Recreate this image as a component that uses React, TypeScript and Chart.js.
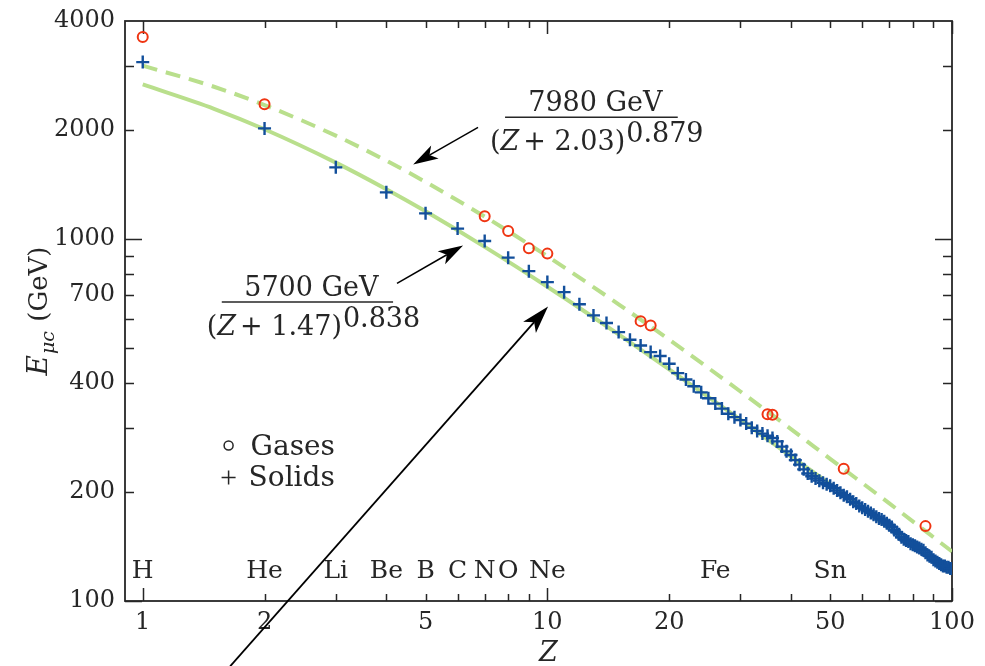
import React, { useEffect, useRef } from 'react';
import { Chart, registerables } from 'chart.js';

Chart.register(...registerables);

// ---------- data ----------
const SOLID_Z = [
  1, 2, 3, 4, 5, 6, 7, 8, 9, 10, 11, 12, 13, 14, 15, 16, 17, 18, 19, 20,
  21, 22, 23, 24, 25, 26, 27, 28, 29, 30, 31, 32, 33, 34, 35, 36, 37, 38, 39, 40,
  41, 42, 43, 44, 45, 46, 47, 48, 49, 50, 51, 52, 53, 54, 55, 56, 57, 58, 59, 60,
  61, 62, 63, 64, 65, 66, 67, 68, 69, 70, 71, 72, 73, 74, 75, 76, 77, 78, 79, 80,
  81, 82, 83, 84, 85, 86, 87, 88, 89, 90, 91, 92, 93, 94, 95, 96, 97, 98, 99, 100,
];
const SOLID_E = [
  3080, 2020, 1577, 1345, 1177, 1068, 987, 888, 815, 760, 713, 660, 615, 586, 553, 527, 508, 487, 475, 452,
  426, 409, 392, 377, 363, 351, 340, 329, 322, 316, 309, 301, 295, 290, 286, 282, 276, 267, 259, 253,
  245, 238, 231, 225, 221, 218, 215, 212, 210, 208, 205, 202, 199, 196, 194, 191, 188, 186, 183, 181,
  179, 177, 175, 173, 171, 169, 168, 166, 164, 162, 160, 157, 155, 153, 150, 148, 147, 146, 144, 143,
  142, 141, 140, 139, 138, 136, 134, 133, 132, 130, 129, 128, 127, 126, 125, 125, 124, 124, 123, 123,
];
const GAS_Z = [1, 2, 7, 8, 9, 10, 17, 18, 35, 36, 54, 86];
const GAS_E = [3611, 2354, 1155, 1052, 943, 911, 593, 577, 328, 327, 232, 161];

const FIT_Z = [1, 1.5, 2, 3, 4, 5, 7, 10, 15, 20, 30, 40, 50, 70, 100];
const FIT_SOLID_E = [2672, 2289, 2009, 1625, 1372, 1192, 951, 738, 545, 436, 317, 251, 210, 159, 119];
const FIT_GAS_E = [3012, 2633, 2344, 1929, 1645, 1437, 1153, 896, 660, 527, 379, 298.5, 247, 186, 137];

const X_LABELS = [1, 2, 5, 10, 20, 50, 100];
const Y_LABELS = [100, 200, 400, 700, 1000, 2000, 4000];
const X_MAJOR = [1, 10, 100];
const X_MINOR = [2, 3, 4, 5, 6, 7, 8, 9, 20, 30, 40, 50, 60, 70, 80, 90];
const Y_MAJOR = [100, 1000];
const Y_MINOR = [200, 300, 400, 500, 600, 700, 800, 900, 2000, 3000];

const ELEMENTS = ['H', 'He', 'Li', 'Be', 'B', 'C', 'N', 'O', 'Ne', 'Fe', 'Sn'];
const ELEMENT_Z = [1, 2, 3, 4, 5, 6, 7, 8, 10, 26, 50];
const ELEMENT_LABEL_E = 116;

// ---------- styles ----------
const INK = '#262626';
const RED = '#ef3512';
const BLUE = '#124f9b';
const GREEN = '#b9df8c';
const SERIF = '"DejaVu Serif", serif';

type Pt = [number, number];

function drawArrow(ctx: CanvasRenderingContext2D, from: Pt, to: Pt, headLen: number, headW: number) {
  const [x1, y1] = from;
  const [x2, y2] = to;
  const ang = Math.atan2(y2 - y1, x2 - x1);
  const c = Math.cos(ang);
  const s = Math.sin(ang);
  const bx = x2 - headLen * c;
  const by = y2 - headLen * s;
  const nx = x2 - headLen * 0.75 * c;
  const ny = y2 - headLen * 0.75 * s;
  ctx.beginPath();
  ctx.moveTo(x1, y1);
  ctx.lineTo(nx, ny);
  ctx.stroke();
  ctx.beginPath();
  ctx.moveTo(x2, y2);
  ctx.lineTo(bx + (headW / 2) * s, by - (headW / 2) * c);
  ctx.lineTo(nx, ny);
  ctx.lineTo(bx - (headW / 2) * s, by + (headW / 2) * c);
  ctx.closePath();
  ctx.fill();
}

function drawFraction(
  ctx: CanvasRenderingContext2D,
  left: number,
  right: number,
  barY: number,
  numer: string,
  denomNum: string,
  expo: string
) {
  const size = 27;
  ctx.fillStyle = INK;
  ctx.strokeStyle = INK;
  ctx.lineWidth = 1.6;
  ctx.beginPath();
  ctx.moveTo(left, barY);
  ctx.lineTo(right, barY);
  ctx.stroke();
  ctx.font = `${size}px ${SERIF}`;
  ctx.textAlign = 'center';
  ctx.textBaseline = 'alphabetic';
  ctx.fillText(numer, (left + right) / 2 + 4, barY - 6);
  ctx.textAlign = 'left';
  let x = left - 15;
  const base = barY + 33;
  ctx.font = `${size}px ${SERIF}`;
  ctx.fillText('(', x, base);
  x += ctx.measureText('(').width;
  ctx.font = `italic ${size}px ${SERIF}`;
  ctx.fillText('Z', x, base);
  x += ctx.measureText('Z').width + 4;
  ctx.font = `${size}px ${SERIF}`;
  const rest = `+ ${denomNum})`;
  ctx.fillText(rest, x, base);
  x += ctx.measureText(rest).width + 1;
  ctx.fillText(expo, x, base - 8);
}

const overlay = {
  id: 'overlay',
  beforeDatasetsDraw(chart: any) {
    const { ctx, chartArea: a, scales } = chart;
    const xs = scales.x;
    const ys = scales.y;
    ctx.save();
    ctx.strokeStyle = INK;
    ctx.lineWidth = 1.8;
    ctx.strokeRect(a.left, a.top, a.right - a.left, a.bottom - a.top);
    ctx.lineWidth = 1.5;
    ctx.beginPath();
    const xTick = (v: number, len: number) => {
      const px = Math.round(xs.getPixelForValue(v)) + 0.5;
      ctx.moveTo(px, a.bottom);
      ctx.lineTo(px, a.bottom - len);
      ctx.moveTo(px, a.top);
      ctx.lineTo(px, a.top + len);
    };
    const yTick = (v: number, len: number) => {
      const py = Math.round(ys.getPixelForValue(v)) + 0.5;
      ctx.moveTo(a.left, py);
      ctx.lineTo(a.left + len, py);
      ctx.moveTo(a.right, py);
      ctx.lineTo(a.right - len, py);
    };
    X_MAJOR.forEach((v) => xTick(v, 13));
    X_MINOR.forEach((v) => xTick(v, 7));
    Y_MAJOR.forEach((v) => yTick(v, 17));
    Y_MINOR.forEach((v) => yTick(v, 9));
    ctx.stroke();
    ctx.restore();
  },
  afterDraw(chart: any) {
    const { ctx, chartArea: a, scales } = chart;
    const xs = scales.x;
    const ys = scales.y;
    const P = (z: number, e: number): Pt => [xs.getPixelForValue(z), ys.getPixelForValue(e)];
    ctx.save();
    ctx.fillStyle = INK;

    // element labels
    ctx.font = `25px ${SERIF}`;
    ctx.textAlign = 'center';
    ctx.textBaseline = 'alphabetic';
    const ly = ys.getPixelForValue(ELEMENT_LABEL_E);
    ELEMENTS.forEach((el, i) => {
      ctx.fillText(el, xs.getPixelForValue(ELEMENT_Z[i]), ly);
    });

    // legend
    const [gx, gy] = P(1.63, 269);
    const [sx, sy] = P(1.63, 219.5);
    ctx.strokeStyle = INK;
    ctx.lineWidth = 1.5;
    ctx.beginPath();
    ctx.arc(gx, gy, 4.5, 0, Math.PI * 2);
    ctx.stroke();
    ctx.beginPath();
    ctx.moveTo(sx - 7, sy);
    ctx.lineTo(sx + 7, sy);
    ctx.moveTo(sx, sy - 7);
    ctx.lineTo(sx, sy + 7);
    ctx.stroke();
    ctx.font = `28px ${SERIF}`;
    ctx.textAlign = 'left';
    ctx.fillText('Gases', gx + 22, gy + 10);
    ctx.fillText('Solids', sx + 20, sy + 9);

    // formulas
    const [f1l, f1y] = P(7.86, 2168);
    const [f1r] = P(21.0, 2168);
    drawFraction(ctx, f1l, f1r, f1y, '7980 GeV', '2.03', '0.879');
    const [f2l, f2y] = P(1.568, 669.5);
    const [f2r] = P(4.156, 669.5);
    drawFraction(ctx, f2l, f2r, f2y, '5700 GeV', '1.47', '0.838');

    // arrows
    ctx.strokeStyle = '#000';
    ctx.fillStyle = '#000';
    ctx.lineWidth = 1.5;
    drawArrow(ctx, P(6.74, 2034), P(4.66, 1607), 25, 15);
    drawArrow(ctx, P(4.25, 754), P(6.19, 960), 25, 15);
    ctx.lineWidth = 1.8;
    drawArrow(ctx, P(1.644, 66), P(10.04, 651), 28, 17);

    // axis titles
    ctx.fillStyle = INK;
    ctx.font = `italic 27px ${SERIF}`;
    ctx.textAlign = 'center';
    ctx.fillText('Z', (a.left + a.right) / 2 + 10, 661);

    ctx.save();
    ctx.translate(47, (a.top + a.bottom) / 2);
    ctx.rotate(-Math.PI / 2);
    ctx.textAlign = 'left';
    const fE = `italic 28px ${SERIF}`;
    const fSub = `italic 19px ${SERIF}`;
    const fMain = `26px ${SERIF}`;
    ctx.font = fE;
    const wE = ctx.measureText('E').width;
    ctx.font = fSub;
    const wS = ctx.measureText('μc').width;
    ctx.font = fMain;
    const wG = ctx.measureText(' (GeV)').width;
    let x = -(wE + wS + wG + 2) / 2;
    ctx.font = fE;
    ctx.fillText('E', x, 0);
    x += wE + 1;
    ctx.font = fSub;
    ctx.fillText('μc', x, 7);
    x += wS + 1;
    ctx.font = fMain;
    ctx.fillText(' (GeV)', x, 0);
    ctx.restore();

    ctx.restore();
  },
};

export default function App() {
  const ref = useRef<HTMLCanvasElement>(null);
  useEffect(() => {
    if (!ref.current) return;
    const chart = new Chart(ref.current, {
      type: 'scatter',
      data: {
        datasets: [
          {
            label: 'Gases',
            data: GAS_Z.map((z, i) => ({ x: z, y: GAS_E[i] })),
            pointStyle: 'circle',
            pointRadius: 5,
            borderWidth: 2,
            borderColor: RED,
            backgroundColor: 'rgba(0,0,0,0)',
            order: 0,
          },
          {
            label: 'Solids',
            data: SOLID_Z.map((z, i) => ({ x: z, y: SOLID_E[i] })),
            pointStyle: 'cross',
            pointRadius: 6.5,
            borderWidth: 2.4,
            borderColor: BLUE,
            backgroundColor: BLUE,
            order: 1,
          },
          {
            label: '7980 GeV / (Z+2.03)^0.879',
            data: FIT_Z.map((z, i) => ({ x: z, y: FIT_GAS_E[i] })),
            showLine: true,
            pointRadius: 0,
            borderColor: GREEN,
            borderWidth: 4,
            borderDash: [15, 9],
            cubicInterpolationMode: 'monotone',
            order: 2,
          },
          {
            label: '5700 GeV / (Z+1.47)^0.838',
            data: FIT_Z.map((z, i) => ({ x: z, y: FIT_SOLID_E[i] })),
            showLine: true,
            pointRadius: 0,
            borderColor: GREEN,
            borderWidth: 4,
            cubicInterpolationMode: 'monotone',
            order: 3,
          },
        ],
      },
      options: {
        animation: false,
        responsive: true,
        maintainAspectRatio: false,
        events: [],
        layout: { padding: { left: 0, right: 33, top: 21, bottom: 0 } },
        plugins: { legend: { display: false }, tooltip: { enabled: false }, title: { display: false } },
        scales: {
          x: {
            type: 'logarithmic',
            min: 0.904,
            max: 100,
            grid: { display: false, drawTicks: false },
            border: { display: false },
            afterBuildTicks: (ax: any) => {
              ax.ticks = X_LABELS.map((v) => ({ value: v }));
            },
            afterFit: (ax: any) => {
              ax.height = 65;
              ax.paddingLeft = 0;
              ax.paddingRight = 0;
            },
            ticks: {
              autoSkip: false,
              maxRotation: 0,
              padding: 7,
              color: INK,
              font: { family: SERIF, size: 24 },
              callback: (v: any) => String(v),
            },
          },
          y: {
            type: 'logarithmic',
            min: 100,
            max: 4000,
            grid: { display: false, drawTicks: false },
            border: { display: false },
            afterBuildTicks: (ax: any) => {
              ax.ticks = Y_LABELS.map((v) => ({ value: v }));
            },
            afterFit: (ax: any) => {
              ax.width = 125;
              ax.paddingTop = 0;
              ax.paddingBottom = 0;
            },
            ticks: {
              autoSkip: false,
              padding: 10,
              color: INK,
              font: { family: SERIF, size: 24 },
              callback: (v: any) => String(v),
            },
          },
        },
      } as any,
      plugins: [overlay],
    });
    return () => chart.destroy();
  }, []);
  return (
    <div style={{ position: 'absolute', left: 0, top: 0, width: 985, height: 666, background: '#fff' }}>
      <canvas ref={ref} />
    </div>
  );
}
